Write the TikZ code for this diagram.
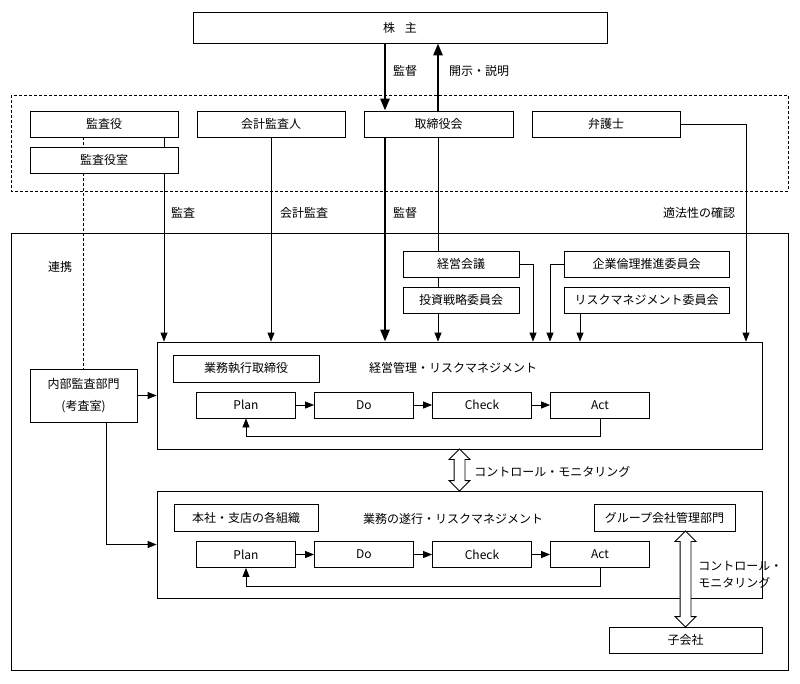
\documentclass[tikz,border=0pt]{standalone}
\usepackage{fontspec}
\setmainfont{Noto Sans CJK JP}
\usetikzlibrary{arrows.meta,shapes.arrows,calc}

\begin{document}
\begin{tikzpicture}[
    x=1pt, y=-1pt,
    line width=0.8pt,
    every node/.style={font=\fontsize{12}{14}\selectfont, inner sep=1pt},
    box/.style={draw, fill=white, minimum height=26pt, minimum width=148pt},
    arr/.style={-{Triangle[length=9pt,width=7pt]}},
    bigarr/.style={line width=2.6pt, -{Triangle[length=12pt,width=9pt]}},
    hollow/.style={double arrow, draw, fill=white, rotate=90, minimum width=20pt,
        inner sep=5pt, double arrow head extend=5pt}
]
\useasboundingbox (0,0) rectangle (800,683);

% frames
\draw[dash pattern=on 3pt off 2pt] (11,95) rectangle (788,191);
\draw (11,233) rectangle (788,670);

% top
\node[box, minimum width=414pt, minimum height=31pt] (kabu) at (400,27.5) {株\hspace{0.8em}主};
\node[box] (kansayaku) at (104,124) {監査役};
\node[box] (kansashitsu) at (104,160) {監査役室};
\node[box] (kaikei) at (271,124) {会計監査人};
\node[box, minimum width=149pt] (torishimari) at (438.5,124) {取締役会};
\node[box] (bengoshi) at (606,124) {弁護士};

% committees
\node[box, minimum width=116pt] (keiei) at (461,264) {経営会議};
\node[box, minimum width=116pt] (toushi) at (461,300) {投資戦略委員会};
\node[box, minimum width=165pt] (rinri) at (646.5,264) {企業倫理推進委員会};
\node[box, minimum width=165pt] (riskiin) at (646.5,300) {リスクマネジメント委員会};

% main blocks
\node[box, minimum width=605pt, minimum height=107pt] (kanri) at (459.5,395.5) {};
\node[box, minimum width=605pt, minimum height=107pt] (suikou) at (459.5,544.5) {};
\node[box, minimum width=146pt, minimum height=27pt] (shikkou) at (246,368.5) {業務執行取締役};
\node (kanrititle) at (453,368) {経営管理・リスクマネジメント};
\node[box, minimum width=144pt, minimum height=27pt] (honsha) at (246,517.5) {本社・支店の各組織};
\node (suikoutitle) at (453,519) {業務の遂行・リスクマネジメント};
\node[box, minimum width=141pt, minimum height=27pt] (group) at (664.5,517.5) {グループ会社管理部門};
\node[box, minimum width=153pt] (kogaisha) at (685.5,640) {子会社};
\node[box, minimum width=107pt, minimum height=53pt, align=center] (naibu) at (83.5,395.5)
    {内部監査部門\\[8pt](考査室)};

% PDCA rows
\foreach \r/\y in {1/405, 2/554.5} {
    \foreach \n/\t/\x in {plan/Plan/246, do/Do/364, check/Check/482, act/Act/600}
        \node[box, minimum width=99pt] (\n\r) at (\x,\y) {\t};
    \foreach \a/\b in {plan/do, do/check, check/act}
        \draw[arr] (\a\r) -- (\b\r);
    \draw[arr] (act\r.south) -- ++(0,18) -| (plan\r.south);
}

% columns
\coordinate (cKansa) at (164,0);
\coordinate (cKantoku) at (385,0);
\coordinate (cKaiji) at (438,0);
\coordinate (cKaigi) at (533,0);
\coordinate (cRinri) at (550,0);
\coordinate (cRisk) at (580,0);
\coordinate (cTekihou) at (746,0);
\coordinate (cNaibu) at (106,0);

% connectors
\draw[bigarr] (kabu.south -| cKantoku) -- (torishimari.north -| cKantoku);
\draw[bigarr] (torishimari.north -| cKaiji) -- (kabu.south -| cKaiji);
\draw[dash pattern=on 3pt off 2pt] (kansayaku.south -| naibu.north) -- (kansashitsu.north -| naibu.north);
\draw[dash pattern=on 3pt off 2pt] (kansashitsu.south -| naibu.north) -- (naibu.north);
\draw (kansayaku.south -| cKansa) -- (kansashitsu.north -| cKansa);
\draw[arr] (kansashitsu.south -| cKansa) -- (kanri.north -| cKansa);
\draw[arr] (kaikei.south) -- (kanri.north -| kaikei.south);
\draw[bigarr] (torishimari.south -| cKantoku) -- (kanri.north -| cKantoku);
\draw (torishimari.south -| cKaiji) -- (keiei.north -| cKaiji);
\draw (keiei.south -| cKaiji) -- (toushi.north -| cKaiji);
\draw[arr] (toushi.south -| cKaiji) -- (kanri.north -| cKaiji);
\draw[arr] (keiei.east) -| (kanri.north -| cKaigi);
\draw[arr] (rinri.west) -| (kanri.north -| cRinri);
\draw[arr] (riskiin.south -| cRisk) -- (kanri.north -| cRisk);
\draw[arr] (bengoshi.east) -| (kanri.north -| cTekihou);
\draw[arr] (naibu.east) -- (naibu.east -| kanri.west);
\draw[arr] (naibu.south -| cNaibu) |- (suikou.west);

% control arrows
\node[hollow, minimum height=42pt] (ctl) at ($(kanri.south)!0.5!(suikou.north)$) {};
\node[hollow, minimum height=96pt] (ctlsub) at ($(kogaisha.north)!0.5!(kogaisha.north |- group.south)$) {};

% labels
\node (lKantokuTop) at (405,71) {監督};
\node (lKaiji) at (479,71) {開示・説明};
\node (lKansa) at (183,213) {監査};
\node (lKaikei) at (304,213) {会計監査};
\node (lKantoku) at (405,213) {監督};
\node (lTekihou) at (699,213) {適法性の確認};
\node (lRenkei) at (60,267) {連携};
\node[anchor=west] (lCtl) at (473,472) {コントロール・モニタリング};
\node[anchor=west, align=left] (lCtlSub) at (697,575) {コントロール・\\[3pt]モニタリング};
\end{tikzpicture}
\end{document}
